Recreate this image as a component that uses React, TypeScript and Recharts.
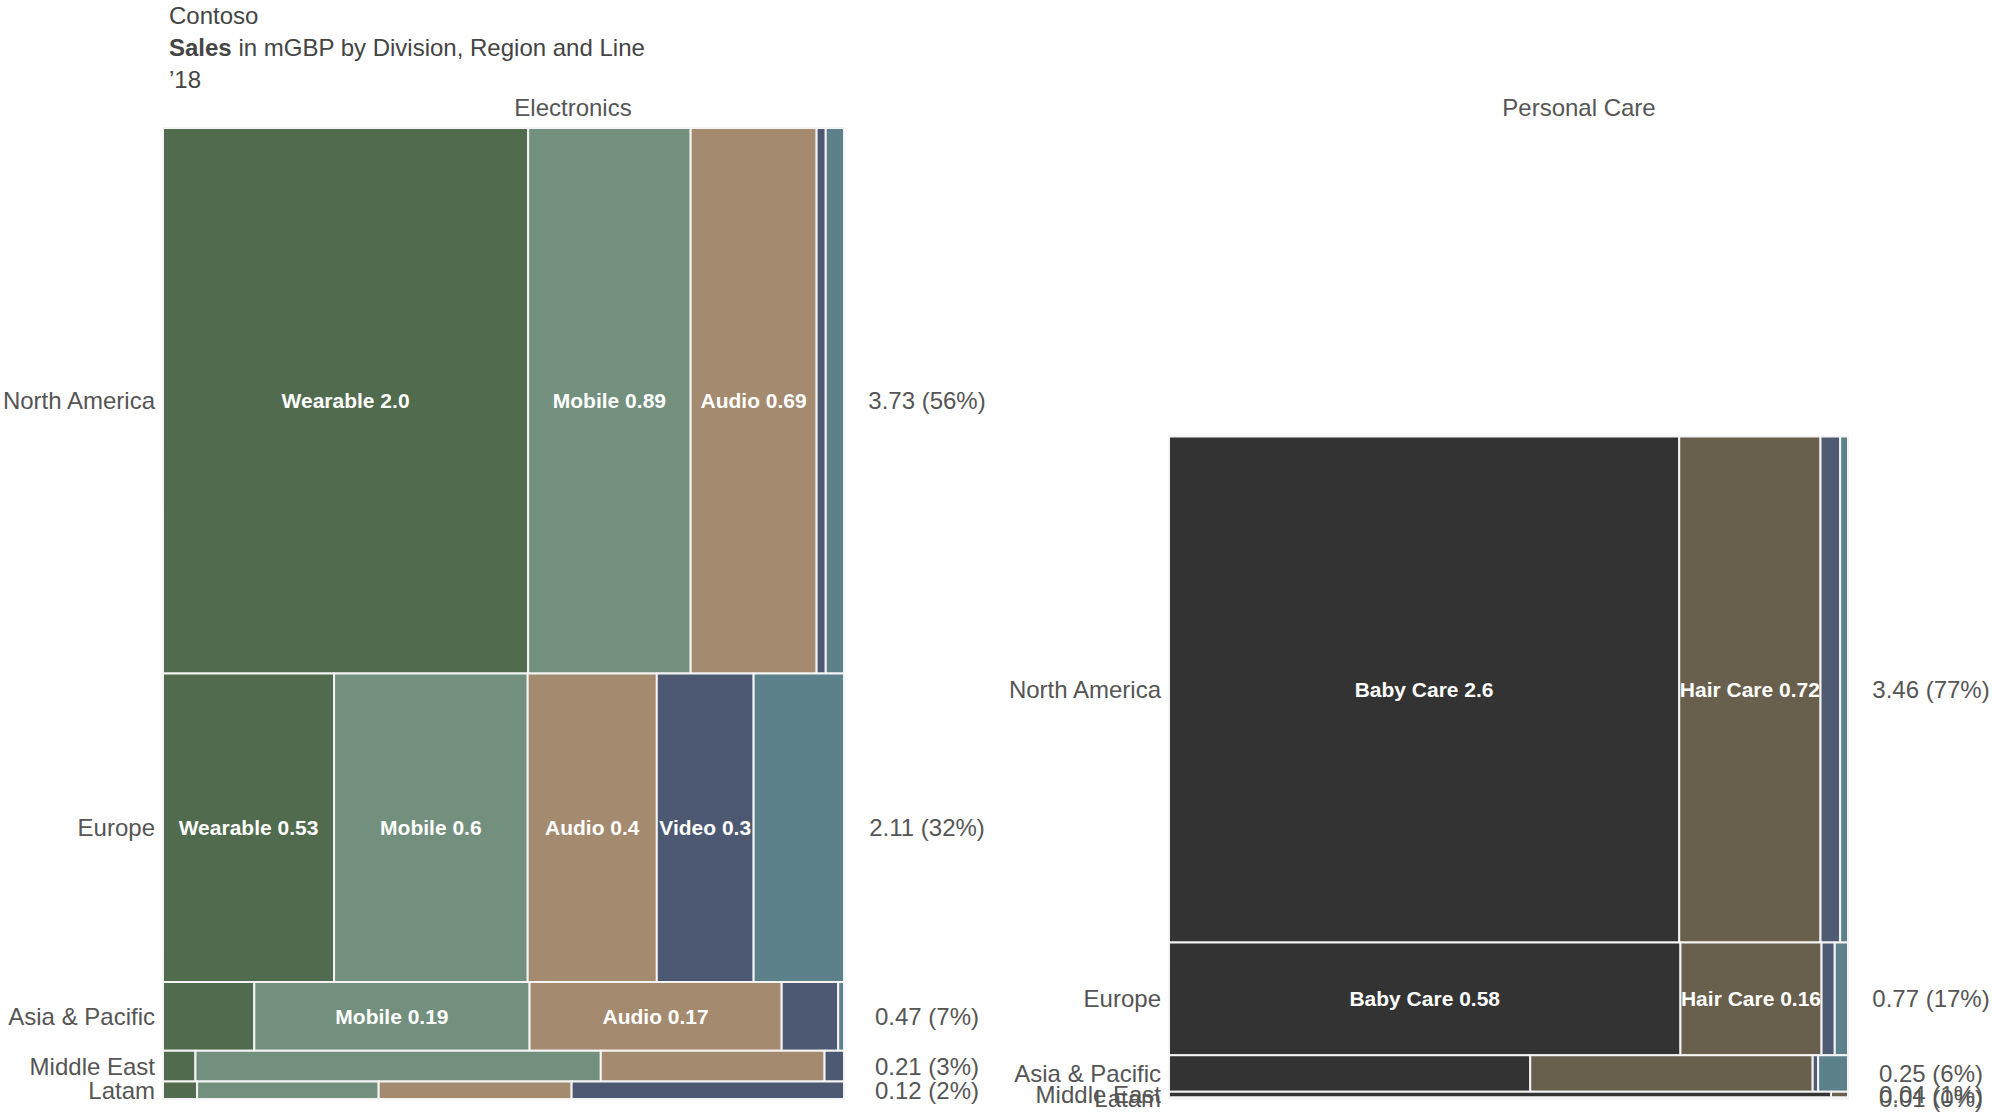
import React from "react";
import { ComposedChart, ReferenceArea, Scatter, XAxis, YAxis } from "recharts";

const regions = ["North America", "Europe", "Asia & Pacific", "Middle East", "Latam"];

// Electronics, mGBP by region (same order as regions)
const wearable = [2.0, 0.53, 0.063, 0.01, 0.006];
const mobile = [0.89, 0.6, 0.19, 0.125, 0.032];
const audio = [0.69, 0.4, 0.174, 0.069, 0.034];
const video = [0.05, 0.3, 0.039, 0.006, 0.048];
const computing = [0.1, 0.28, 0.004, 0, 0];
const electronicsShare = [56, 32, 7, 3, 2];

// Personal Care, mGBP by region
const babyCare = [2.6, 0.58, 0.133, 0.039, 0.01];
const hairCare = [0.72, 0.16, 0.104, 0.001, 0];
const skinCare = [0.1, 0.015, 0.002, 0, 0];
const oralCare = [0.04, 0.015, 0.011, 0, 0];
const personalCareShare = [77, 17, 6, 1, 0];

interface Line {
  name: string;
  values: number[];
  color: string;
}

const electronics: Line[] = [
  { name: "Wearable", values: wearable, color: "#516b4e" },
  { name: "Mobile", values: mobile, color: "#73907e" },
  { name: "Audio", values: audio, color: "#a48a6f" },
  { name: "Video", values: video, color: "#4d5872" },
  { name: "Computing", values: computing, color: "#5d818b" },
];

const personalCare: Line[] = [
  { name: "Baby Care", values: babyCare, color: "#333333" },
  { name: "Hair Care", values: hairCare, color: "#685f4c" },
  { name: "Skin Care", values: skinCare, color: "#4f5a73" },
  { name: "Oral Care", values: oralCare, color: "#5d818b" },
];

const PLOT_TOP = 128;
const CHART_H = 1113;
const PLOT_BOTTOM = 1099;
const PLOT_H = PLOT_BOTTOM - PLOT_TOP;
const TEXT = "#555";

const sum = (a: number[]) => a.reduce((s, v) => s + v, 0);
const regionTotals = (lines: Line[]) => regions.map((_, i) => sum(lines.map((l) => l.values[i])));
const Y_MAX = Math.max(sum(regionTotals(electronics)), sum(regionTotals(personalCare)));

const fmtCell = (v: number) => (v >= 1 ? v.toFixed(1) : String(Number(v.toPrecision(2))));

const NoDot = () => <g />;

function LeftTick({ x, y, index }: any) {
  return (
    <text x={x - 8} y={y} textAnchor="end" dominantBaseline="central" fontSize={24} fill={TEXT}>
      {regions[index]}
    </text>
  );
}

function Panel({
  lines,
  share,
  width,
  leftW,
  rightW,
}: {
  lines: Line[];
  share: number[];
  width: number;
  leftW: number;
  rightW: number;
}) {
  const totals = regionTotals(lines);
  // regions stack from the bottom: Latam at 0, North America on top
  const base = totals.map((_, i) => sum(totals.slice(i + 1)));
  const centers = totals.map((t, i) => base[i] + t / 2);
  const rows = centers.map((c) => ({ x: 0.5, y: c }));
  const plotW = width - leftW - rightW;

  const cells: React.ReactNode[] = [];
  totals.forEach((t, i) => {
    let cum = 0;
    lines.forEach((l) => {
      const v = l.values[i];
      if (v <= 0) return;
      const x1 = cum / t;
      const x2 = (cum + v) / t;
      cum += v;
      const wPx = (x2 - x1) * plotW;
      const hPx = (t / Y_MAX) * PLOT_H;
      const show = wPx >= 95 && hPx >= 45;
      cells.push(
        <ReferenceArea
          key={`${l.name}-${i}`}
          yAxisId="left"
          x1={x1}
          x2={x2}
          y1={base[i]}
          y2={base[i] + t}
          fill={l.color}
          fillOpacity={1}
          stroke="#f4f4f4"
          strokeWidth={2}
          ifOverflow="visible"
          label={
            show
              ? {
                  value: `${l.name} ${fmtCell(v)}`,
                  position: "center",
                  fill: "#fff",
                  fontSize: 21,
                  fontWeight: 700,
                }
              : undefined
          }
        />
      );
    });
  });

  const RightTick = ({ x, y, index }: any) => (
    <text x={x + 83} y={y} textAnchor="middle" dominantBaseline="central" fontSize={24} fill={TEXT}>
      {`${totals[index].toFixed(2)} (${share[index]}%)`}
    </text>
  );

  return (
    <ComposedChart
      width={width}
      height={CHART_H}
      data={rows}
      margin={{ top: PLOT_TOP, right: 0, bottom: CHART_H - PLOT_BOTTOM, left: 0 }}
    >
      <XAxis type="number" dataKey="x" domain={[0, 1]} hide />
      <YAxis
        yAxisId="left"
        type="number"
        dataKey="y"
        domain={[0, Y_MAX]}
        ticks={centers}
        interval={0}
        width={leftW}
        axisLine={false}
        tickLine={false}
        tickSize={0}
        tickMargin={0}
        tick={<LeftTick />}
      />
      <YAxis
        yAxisId="right"
        orientation="right"
        type="number"
        dataKey="y"
        domain={[0, Y_MAX]}
        ticks={centers}
        interval={0}
        width={rightW}
        axisLine={false}
        tickLine={false}
        tickSize={0}
        tickMargin={0}
        tick={<RightTick />}
      />
      <Scatter yAxisId="left" dataKey="y" data={rows} shape={NoDot} isAnimationActive={false} />
      <Scatter yAxisId="right" dataKey="y" data={rows} shape={NoDot} isAnimationActive={false} />
      {cells}
    </ComposedChart>
  );
}

export default function App() {
  return (
    <div
      style={{
        position: "absolute",
        left: 0,
        top: 0,
        width: 1992,
        height: 1113,
        background: "#fff",
        overflow: "hidden",
        fontFamily: "'Liberation Sans', Arial, sans-serif",
        color: "#444",
      }}
    >
      <div style={{ position: "absolute", left: 0, top: 0 }}>
        <Panel lines={electronics} share={electronicsShare} width={1000} leftW={163} rightW={156} />
      </div>
      <div style={{ position: "absolute", left: 1000, top: 0 }}>
        <Panel lines={personalCare} share={personalCareShare} width={992} leftW={169} rightW={144} />
      </div>
      <div style={{ position: "absolute", left: 169, top: 0, fontSize: 24, lineHeight: "32px" }}>
        <div>Contoso</div>
        <div>
          <b>Sales</b> in mGBP by Division, Region and Line
        </div>
        <div>’18</div>
      </div>
      <div style={{ position: "absolute", left: 373, width: 400, top: 94, textAlign: "center", fontSize: 24, color: TEXT }}>
        Electronics
      </div>
      <div style={{ position: "absolute", left: 1379, width: 400, top: 94, textAlign: "center", fontSize: 24, color: TEXT }}>
        Personal Care
      </div>
    </div>
  );
}
